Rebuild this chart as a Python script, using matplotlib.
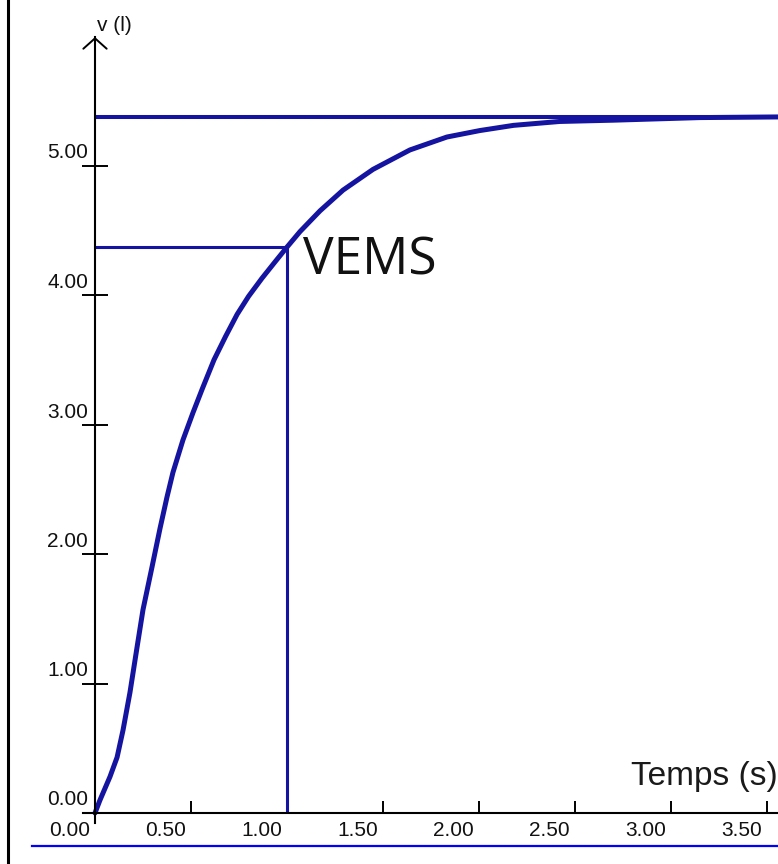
import matplotlib.pyplot as plt
from matplotlib.lines import Line2D

# spirometry curve
temps = [0, 0.026, 0.078, 0.115, 0.146, 0.182, 0.219, 0.25, 0.297, 0.339,
         0.375, 0.406, 0.458, 0.510, 0.56, 0.62, 0.68, 0.74, 0.80, 0.87,
         0.94, 1.0, 1.068, 1.172, 1.292, 1.448, 1.64, 1.833, 2.005, 2.18,
         2.42, 2.70, 3.15, 3.56]
volume = [0, 0.10, 0.28, 0.43, 0.64, 0.93, 1.28, 1.57, 1.90, 2.20,
          2.44, 2.63, 2.88, 3.09, 3.28, 3.50, 3.68, 3.85, 3.99, 4.13,
          4.26, 4.37, 4.49, 4.65, 4.81, 4.97, 5.12, 5.22, 5.27, 5.31,
          5.34, 5.35, 5.37, 5.375]

CAPACITE = 5.375
VEMS_T = 1.0
VEMS_V = 4.37

x_ticks = [0.5, 1.0, 1.5, 2.0, 2.5, 3.0, 3.5]
y_ticks = [1, 2, 3, 4, 5]
x_labels = ["0.50", "1.00", "1.50", "2.00", "2.50", "3.00", "3.50"]
y_labels = ["1.00", "2.00", "3.00", "4.00", "5.00"]

BLUE = "#1414a0"
PX_X = 192.0   # pixels per second
PX_Y = 129.5   # pixels per litre

fig = plt.figure(figsize=(7.78, 8.64), dpi=100)
ax = fig.add_axes([0, 0, 1, 1])
ax.set_xlim(-95 / PX_X, 683 / PX_X)
ax.set_ylim(-51 / PX_Y, 813 / PX_Y)
ax.patch.set_visible(False)

for s in ["top", "right"]:
    ax.spines[s].set_visible(False)
ax.spines["left"].set_position(("data", 0))
ax.spines["bottom"].set_position(("data", 0))
ax.spines["left"].set_bounds(-10 / PX_Y, 776 / PX_Y)
ax.spines["bottom"].set_bounds(-12 / PX_X, 683 / PX_X)
ax.spines["left"].set_linewidth(1.5)
ax.spines["bottom"].set_linewidth(1.5)

ax.set_xticks(x_ticks)
ax.set_yticks(y_ticks)
ax.set_xticklabels([])
ax.set_yticklabels([])
ax.tick_params(axis="y", direction="inout", length=18.5, width=1.4, color="black")
ax.tick_params(axis="x", direction="in", length=9, width=1.4, color="black")

# arrow head on the y axis
ax.annotate("", xy=(0, 776 / PX_Y), xytext=(0, 740 / PX_Y),
            arrowprops=dict(arrowstyle="->, head_length=0.25, head_width=0.28",
                            lw=1.4, color="black", mutation_scale=30,
                            shrinkA=0, shrinkB=0))

tick_font = dict(family=["Liberation Sans", "DejaVu Sans"], fontsize=15, color="#111111")
for v, lab in zip(y_ticks, y_labels):
    ax.text(-7 / PX_X, v + 3 / PX_Y, lab, ha="right", va="bottom", **tick_font)
ax.text(-7 / PX_X, 4 / PX_Y, "0.00", ha="right", va="bottom", **tick_font)
for t, lab in zip(x_ticks, x_labels):
    ax.text(t - 5 / PX_X, -8 / PX_Y, lab, ha="right", va="top", **tick_font)
ax.text(-5 / PX_X, -8 / PX_Y, "0.00", ha="right", va="top", **tick_font)

ax.text(2 / PX_X, 782 / PX_Y, "v (l)", ha="left", va="baseline",
        family=["Liberation Sans", "DejaVu Sans"], fontsize=15, color="#111111")
ax.text(683 / PX_X, 28 / PX_Y, "Temps (s)", ha="right", va="baseline",
        family=["Liberation Sans", "DejaVu Sans"], fontsize=24, color="#1a1a1a")

# plateau and VEMS guide lines
ax.plot([0, 3.56], [CAPACITE, CAPACITE], color=BLUE, lw=2.9, solid_capstyle="butt")
ax.plot([0, VEMS_T], [VEMS_V, VEMS_V], color=BLUE, lw=2.2, solid_capstyle="butt")
ax.plot([VEMS_T, VEMS_T], [0, VEMS_V], color=BLUE, lw=2.2, solid_capstyle="butt")

ax.plot(temps, volume, color=BLUE, lw=3.6, solid_capstyle="round",
        solid_joinstyle="round")

ax.text(1.083, 4.155, "VEMS", ha="left", va="baseline",
        family=["Open Sans", "DejaVu Sans"], fontsize=37, color="#111111")

# frame bits around the screenshot
fig.add_artist(Line2D([8 / 778, 8 / 778], [0, 1], color="black", lw=2.2,
                      transform=fig.transFigure))
fig.add_artist(Line2D([32 / 778, 1], [1 - 846 / 864, 1 - 846 / 864], color="#0000ff",
                      lw=1.6, transform=fig.transFigure))

fig.savefig("out.png", dpi=100)
